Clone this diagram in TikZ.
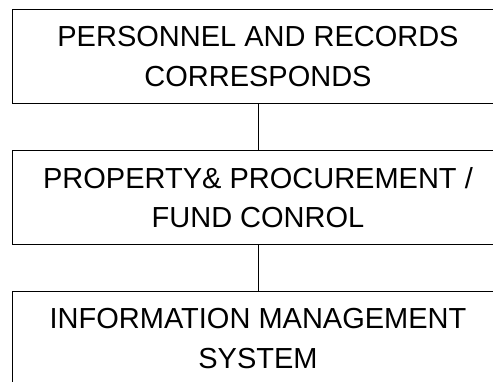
\documentclass[tikz,border=0pt]{standalone}
\usepackage{fontspec}
\setmainfont{Liberation Sans}
\usetikzlibrary{positioning}
\tikzset{unitbox/.style={draw, line width=1pt, minimum width=492pt, minimum height=94pt, inner sep=0pt, align=center, font=\fontsize{29}{39.3}\selectfont}}
\begin{document}
\begin{tikzpicture}[node distance=46pt]
                \useasboundingbox (0,0) rectangle (493pt,-381pt);
                \clip (0,0) rectangle (493pt,-381pt);
                \node[unitbox] (personnel) at (258pt,-56.5pt) {PERSONNEL AND RECORDS\\CORRESPONDS};
                \node[unitbox, below=of personnel] (property) {PROPERTY\& PROCUREMENT /\\FUND CONROL};
                \node[unitbox, below=of property] (infosys) {INFORMATION MANAGEMENT\\SYSTEM};
                \draw[line width=1pt] (personnel) -- (property);
                \draw[line width=1pt] (property) -- (infosys);
            \end{tikzpicture}
\end{document}
